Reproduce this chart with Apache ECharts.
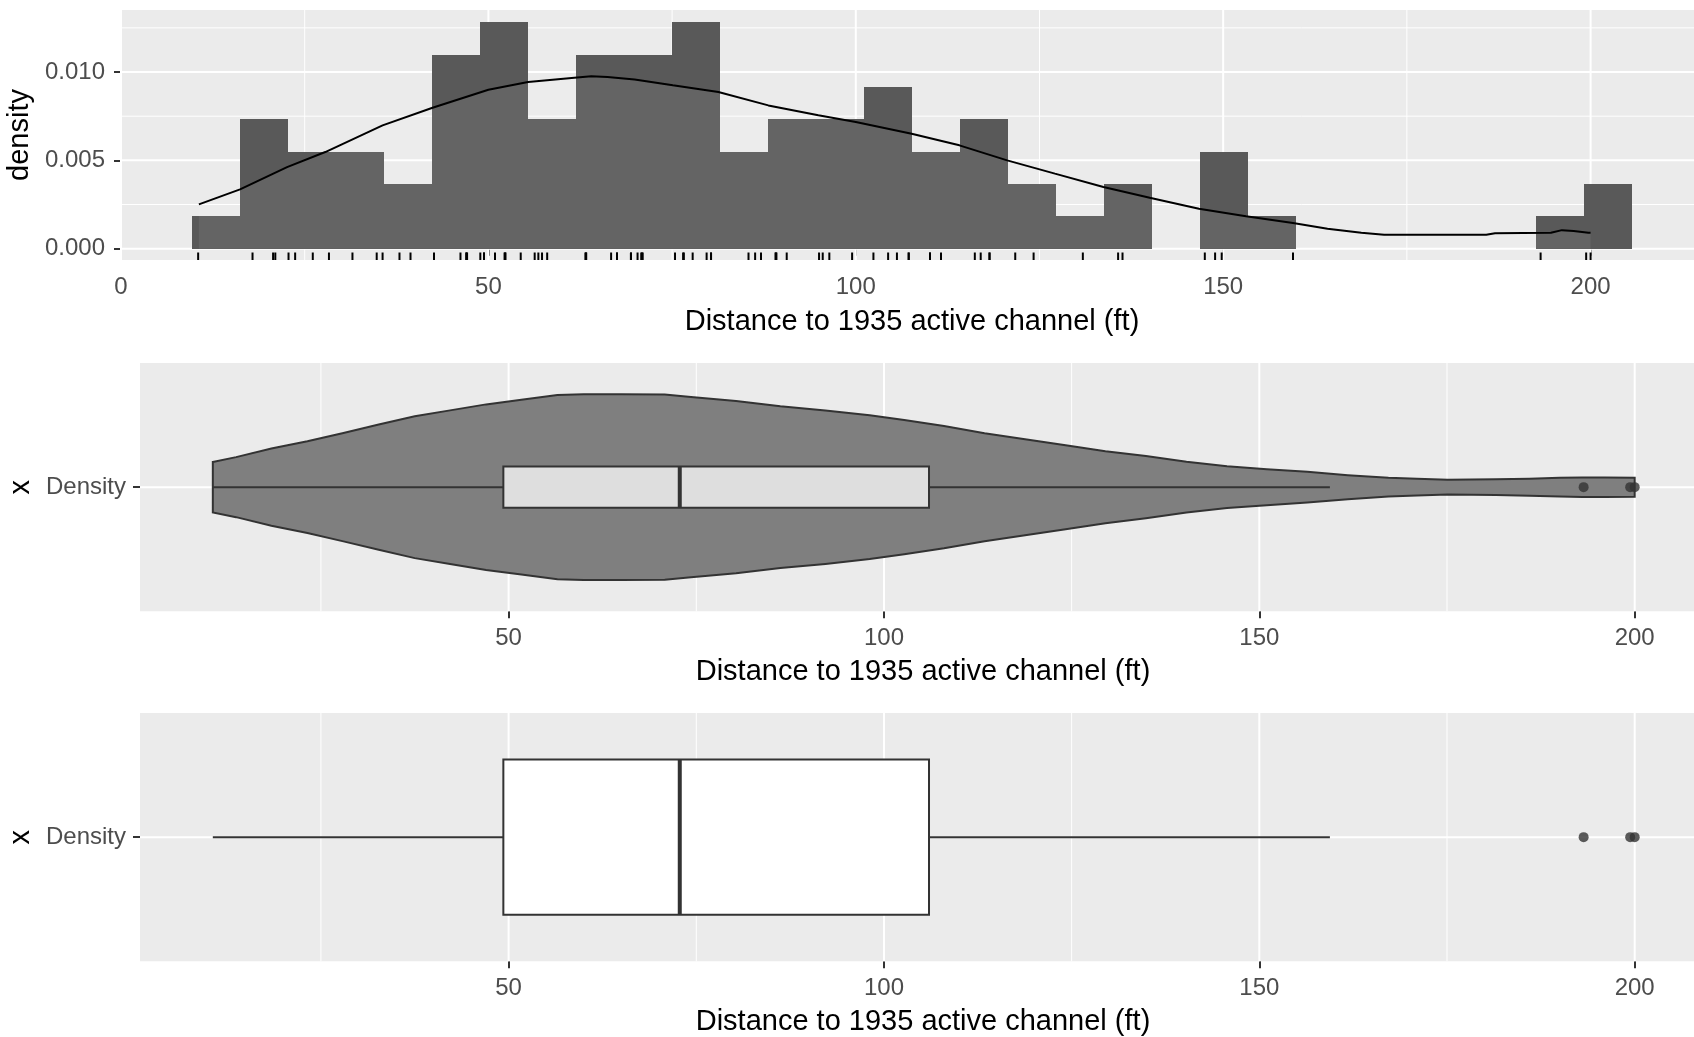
<!DOCTYPE html>
<html>
<head>
<meta charset="utf-8">
<title>Distance to 1935 active channel</title>
<script src="https://cdn.jsdelivr.net/npm/echarts@6/dist/echarts.min.js"></script>
<style>
html, body { margin: 0; padding: 0; background: #fff; }
#chart { width: 1694px; height: 1037px; }
</style>
</head>
<body>
<div id="chart"></div>
<script>
// histogram: bin edges (ft) and bar heights (density)
var binEdges = [9.7, 16.23, 22.76, 29.29, 35.82, 42.35, 48.88, 55.41, 61.94, 68.47, 75.0,
    81.53, 88.06, 94.59, 101.12, 107.65, 114.18, 120.71, 127.24, 133.77, 140.3,
    146.83, 153.36, 159.89, 166.42, 172.95, 179.48, 186.01, 192.54, 199.07, 205.6];
var binDensity = [0.00183, 0.00732, 0.00549, 0.00549, 0.00366, 0.01098, 0.01281, 0.00732, 0.01098, 0.01098,
    0.01281, 0.00549, 0.00732, 0.00732, 0.00915, 0.00549, 0.00732, 0.00366, 0.00183, 0.00366,
    0, 0.00549, 0.00183, 0, 0, 0, 0, 0, 0.00183, 0.00366];

// kernel density curve
var densX = [10.6, 16.2, 22.6, 27.8, 35.6, 42.4, 50.0, 55.4, 61.7, 64.0, 66.2, 69.9, 75.1, 81.3, 88.1,
    94.9, 100.0, 107.6, 114.1, 120.6, 127.1, 133.7, 140.0, 146.7, 153.1, 159.5, 164.2, 168.8,
    171.9, 178.0, 185.8, 187.0, 194.6, 196.1, 197.7, 199.7, 200.0];
var densY = [0.00251, 0.00336, 0.00462, 0.00547, 0.00698, 0.00798, 0.0090, 0.00943, 0.00968, 0.00976, 0.00972,
    0.00957, 0.00925, 0.00887, 0.00811, 0.00755, 0.00717, 0.00651, 0.00585, 0.0050, 0.00425,
    0.00349, 0.00288, 0.00226, 0.00183, 0.00145, 0.00113, 0.0009, 0.00079, 0.00079, 0.00079,
    0.00088, 0.0009, 0.00105, 0.0010, 0.0009, 0.0009];

// rug: the individual distances
var distances = [10.5, 17.9, 20.7, 21.0, 22.8, 23.7, 26.1, 28.3, 31.5, 34.8, 35.6, 37.9, 39.4,
    42.6, 46.2, 47.0, 47.0, 47.1, 48.9, 49.4, 49.4, 50.9, 52.2, 52.3, 52.3, 54.4,
    56.3, 56.8, 57.3, 58.0, 63.2, 63.3, 63.3, 66.7, 67.5, 67.5, 69.4, 69.4, 70.3, 70.8, 70.9, 71.0,
    75.4, 76.5, 76.6, 77.8, 79.7, 80.3, 80.3, 85.4, 86.3, 87.1, 89.1, 89.1, 89.2, 90.6,
    95.0, 95.5, 96.4, 99.5, 102.4, 104.4, 105.6, 107.2, 107.2, 110.1, 110.1, 111.6,
    116.2, 117.0, 118.2, 118.2, 121.7, 124.2, 130.9, 135.7, 136.3, 147.5, 148.9, 149.8,
    159.5, 193.2, 199.4, 200.0];

// violin outline: half width as a share of the category slot
var violinX = [10.6, 13.7, 18.4, 23.2, 28.0, 32.7, 37.5, 42.2, 47.0, 51.7, 56.5, 60.0, 65.0, 70.8, 74.3,
    80.3, 86.2, 92.2, 98.1, 102.7, 108.0, 113.4, 118.8, 124.2, 129.5, 134.9, 140.3, 145.7, 151.0,
    156.4, 161.8, 167.2, 171.0, 175.1, 181.5, 186.0, 190.0, 193.0, 196.0, 200.0];
var violinHalf = [0.122, 0.145, 0.187, 0.222, 0.262, 0.303, 0.343, 0.371, 0.400, 0.422, 0.445, 0.449, 0.449,
    0.448, 0.436, 0.416, 0.391, 0.371, 0.347, 0.324, 0.295, 0.261, 0.232, 0.203, 0.174, 0.150,
    0.123, 0.101, 0.087, 0.074, 0.058, 0.045, 0.040, 0.036, 0.038, 0.041, 0.045, 0.047, 0.047, 0.046];

// box: lower whisker, q1, median, q3, upper whisker
var boxStats = [10.6, 49.3, 72.8, 106.0, 159.4];
var outliers = [193.2, 199.4, 200.0];

// axis breaks
var topXTicks = [0, 50, 100, 150, 200];
var topXMinor = [25, 75, 125, 175];
var topYTicks = [0, 0.005, 0.010];
var topYMinor = [0.0025, 0.0075, 0.0125];
var lowXTicks = [50, 100, 150, 200];
var lowXMinor = [25, 75, 125, 175];
var catName = "Density";

var FONT = "'Liberation Sans', Arial, sans-serif";
var xTitle = "Distance to 1935 active channel (ft)";
var topYMin = -0.00064, topYMax = 0.01351;

var chart = echarts.init(document.getElementById("chart"));

function gridLineSeries(gi, xs, xsMinor, ys, ysMinor, refX, refY) {
    var data = [];
    xsMinor.forEach(function(v) { data.push([v, 0, 1]); });
    ysMinor.forEach(function(v) { data.push([v, 1, 1]); });
    xs.forEach(function(v) { data.push([v, 0, 2]); });
    ys.forEach(function(v) { data.push([v, 1, 2]); });
    return {
        type: "custom", xAxisIndex: gi, yAxisIndex: gi, silent: true, z: 1,
        data: data,
        renderItem: function(params, api) {
            var cs = params.coordSys;
            var v = api.value(0), w = api.value(2), shape;
            if (api.value(1) === 0) {
                var x = api.coord([v, refY])[0];
                shape = { x1: x, y1: cs.y, x2: x, y2: cs.y + cs.height };
            } else {
                var y = api.coord([refX, v])[1];
                shape = { x1: cs.x, y1: y, x2: cs.x + cs.width, y2: y };
            }
            return { type: "line", shape: shape, style: { stroke: "#fff", lineWidth: w } };
        }
    };
}

function boxSeries(gi, half, fill) {
    return {
        type: "custom", xAxisIndex: gi, yAxisIndex: gi, silent: true, z: 4,
        data: [boxStats],
        renderItem: function(params, api) {
            var lw = api.value(0), q1 = api.value(1), md = api.value(2), q3 = api.value(3), uw = api.value(4);
            var a = api.coord([q1, 1 + half]), b = api.coord([q3, 1 - half]);
            var c = api.coord([lw, 1]), d = api.coord([uw, 1]);
            var m = api.coord([md, 1]);
            var ln = { stroke: "#333333", lineWidth: 2 };
            return {
                type: "group",
                children: [
                    { type: "line", shape: { x1: c[0], y1: c[1], x2: a[0], y2: c[1] }, style: ln },
                    { type: "line", shape: { x1: b[0], y1: d[1], x2: d[0], y2: d[1] }, style: ln },
                    { type: "rect", shape: { x: a[0], y: a[1], width: b[0] - a[0], height: b[1] - a[1] },
                      style: { fill: fill, stroke: "#333333", lineWidth: 2 } },
                    { type: "line", shape: { x1: m[0], y1: a[1], x2: m[0], y2: b[1] },
                      style: { stroke: "#333333", lineWidth: 4 } }
                ]
            };
        }
    };
}

function outlierSeries(gi) {
    return {
        type: "scatter", xAxisIndex: gi, yAxisIndex: gi, silent: true, z: 5,
        symbol: "circle", symbolSize: 10,
        itemStyle: { color: "#333333" },
        data: outliers.map(function(v) { return [v, 1]; })
    };
}

function xAxisOpt(gi, min, max, ticks, gap) {
    return {
        type: "value", gridIndex: gi, min: min, max: max,
        axisLine: { show: false },
        splitLine: { show: false },
        axisTick: { customValues: ticks, length: 7, lineStyle: { color: "#333333", width: 2 } },
        axisLabel: { customValues: ticks, margin: 15, fontSize: 24, color: "#4D4D4D", fontFamily: FONT },
        name: xTitle, nameLocation: "middle", nameGap: gap,
        nameTextStyle: { fontSize: 29, color: "#000", fontFamily: FONT }
    };
}

function catYAxisOpt(gi) {
    return {
        type: "value", gridIndex: gi, min: 0.4, max: 1.6,
        axisLine: { show: false },
        splitLine: { show: false },
        axisTick: { customValues: [1], length: 7, lineStyle: { color: "#333333", width: 2 } },
        axisLabel: { customValues: [1], margin: 14, fontSize: 24, color: "#4D4D4D", fontFamily: FONT,
            formatter: function() { return catName; } },
        name: "x", nameLocation: "middle", nameGap: 90, nameRotate: 90,
        nameTextStyle: { fontSize: 29, color: "#000", fontFamily: FONT }
    };
}

var panel = { show: true, backgroundColor: "#EBEBEB", borderWidth: 0, containLabel: false, outerBoundsMode: "none" };

var option = {
    animation: false,
    backgroundColor: "#fff",
    textStyle: { fontFamily: FONT },
    grid: [
        Object.assign({ left: 121, top: 10, width: 1582, height: 250 }, panel),
        Object.assign({ left: 140, top: 363, width: 1566, height: 248.3 }, panel),
        Object.assign({ left: 140, top: 713, width: 1566, height: 248.3 }, panel)
    ],
    xAxis: [
        xAxisOpt(0, 0, 215.3, topXTicks, 47),
        xAxisOpt(1, 0.9, 209.5, lowXTicks, 46),
        xAxisOpt(2, 0.9, 209.5, lowXTicks, 46)
    ],
    yAxis: [
        {
            type: "value", gridIndex: 0, min: topYMin, max: topYMax,
            axisLine: { show: false },
            splitLine: { show: false },
            axisTick: { customValues: topYTicks, length: 7, lineStyle: { color: "#333333", width: 2 } },
            axisLabel: { customValues: topYTicks, margin: 16, fontSize: 24, color: "#4D4D4D", fontFamily: FONT,
                formatter: function(v) { return v.toFixed(3); } },
            name: "density", nameLocation: "middle", nameGap: 68, nameRotate: 90,
            nameTextStyle: { fontSize: 29, color: "#000", fontFamily: FONT }
        },
        catYAxisOpt(1),
        catYAxisOpt(2)
    ],
    series: [
        gridLineSeries(0, topXTicks, topXMinor, topYTicks, topYMinor, 100, 0),
        gridLineSeries(1, lowXTicks, lowXMinor, [1], [], 100, 1),
        gridLineSeries(2, lowXTicks, lowXMinor, [1], [], 100, 1),
        // histogram bars
        {
            type: "custom", xAxisIndex: 0, yAxisIndex: 0, silent: true, z: 2,
            data: binDensity.map(function(d, i) { return [binEdges[i], d, binEdges[i + 1]]; }),
            renderItem: function(params, api) {
                if (!api.value(1)) return;
                var p0 = api.coord([api.value(0), api.value(1)]);
                var p1 = api.coord([api.value(2), 0]);
                var x0 = Math.round(p0[0]), x1 = Math.round(p1[0]);
                var y0 = Math.round(p0[1]), y1 = Math.round(p1[1]);
                return {
                    type: "rect",
                    shape: { x: x0, y: y0, width: x1 - x0, height: y1 - y0 },
                    style: { fill: "#595959" }
                };
            }
        },
        // density curve
        {
            type: "line", xAxisIndex: 0, yAxisIndex: 0, silent: true, z: 3,
            data: densX.map(function(x, i) { return [x, densY[i]]; }),
            symbol: "none", showSymbol: false,
            lineStyle: { color: "#000", width: 2 },
            areaStyle: { color: "rgba(255,255,255,0.1)" }
        },
        // rug
        {
            type: "custom", xAxisIndex: 0, yAxisIndex: 0, silent: true, z: 3,
            data: distances.map(function(v) { return [v, topYMin]; }),
            renderItem: function(params, api) {
                var p = api.coord([api.value(0), api.value(1)]);
                return { type: "line", shape: { x1: p[0], y1: p[1], x2: p[0], y2: p[1] - 7.5 },
                    style: { stroke: "#000", lineWidth: 2 } };
            }
        },
        // violin
        {
            type: "custom", xAxisIndex: 1, yAxisIndex: 1, silent: true, z: 2,
            data: [[violinX[0], 1]],
            renderItem: function(params, api) {
                var pts = [], i;
                for (i = 0; i < violinX.length; i++) pts.push(api.coord([violinX[i], 1 + violinHalf[i]]));
                for (i = violinX.length - 1; i >= 0; i--) pts.push(api.coord([violinX[i], 1 - violinHalf[i]]));
                return { type: "polygon", shape: { points: pts },
                    style: { fill: "#7F7F7F", stroke: "#333333", lineWidth: 2 } };
            }
        },
        boxSeries(1, 0.1, "#DEDEDE"),
        outlierSeries(1),
        boxSeries(2, 0.375, "#FFFFFF"),
        outlierSeries(2)
    ]
};

chart.setOption(option);
window.addEventListener("resize", chart.resize);
</script>
</body>
</html>
